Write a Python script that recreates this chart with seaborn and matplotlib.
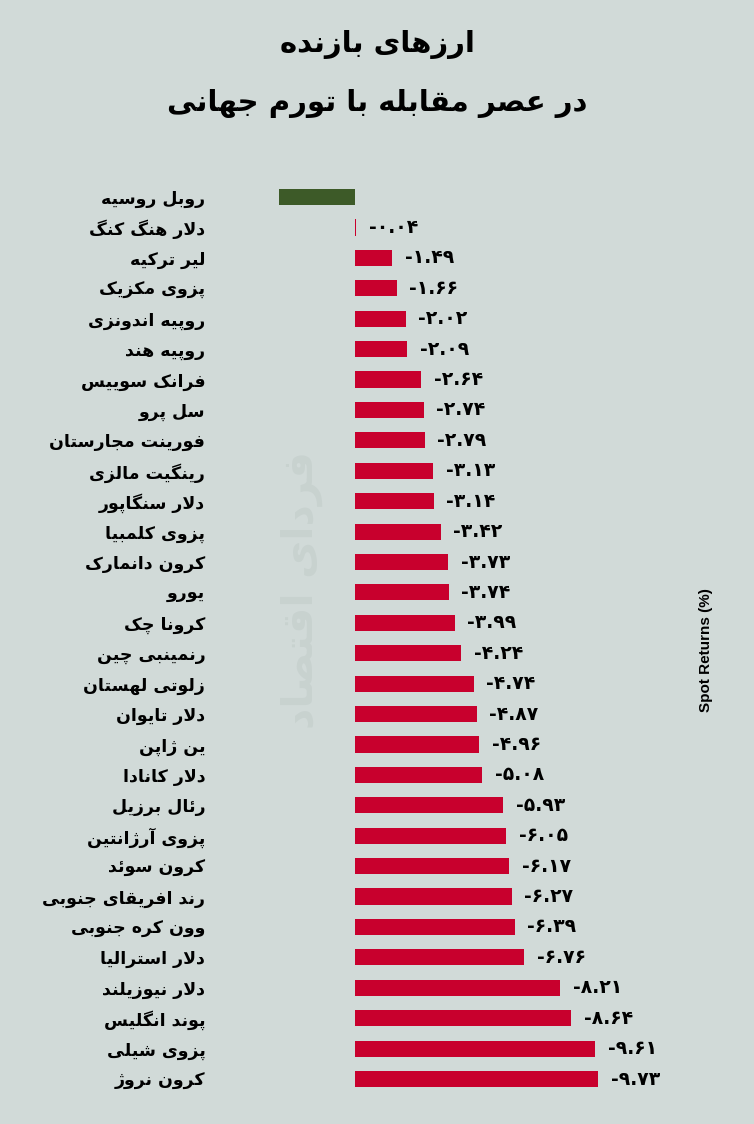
#!/usr/bin/env python3

import numpy as np
import pandas as pd
import matplotlib
matplotlib.use("Agg")
import matplotlib.pyplot as plt
import seaborn as sns

currencies = [
    "روبل روسیه", "دلار هنگ کنگ", "لیر ترکیه", "پزوی مکزیک", "روپیه اندونزی",
    "روپیه هند", "فرانک سوییس", "سل پرو", "فورینت مجارستان", "رینگیت مالزی",
    "دلار سنگاپور", "پزوی کلمبیا", "کرون دانمارک", "یورو", "کرونا چک",
    "رنمینبی چین", "زلوتی لهستان", "دلار تایوان", "ین ژاپن", "دلار کانادا",
    "رئال برزیل", "پزوی آرژانتین", "کرون سوئد", "رند افریقای جنوبی", "وون کره جنوبی",
    "دلار استرالیا", "دلار نیوزیلند", "پوند انگلیس", "پزوی شیلی", "کرون نروژ",
]
returns = [
    3.04, -0.04, -1.49, -1.66, -2.02, -2.09, -2.64, -2.74, -2.79, -3.13,
    -3.14, -3.42, -3.73, -3.74, -3.99, -4.24, -4.74, -4.87, -4.96, -5.08,
    -5.93, -6.05, -6.17, -6.27, -6.39, -6.76, -8.21, -8.64, -9.61, -9.73,
]
title_lines = ["ارزهای بازنده", "در عصر مقابله با تورم جهانی"]
axis_label = "Spot Returns (%)"
watermark = "فردای اقتصاد"

BG = "#d1dad8"
RED = "#c8002d"
GREEN = "#3d5a28"

# matplotlib has no arabic shaping, so map letters to presentation forms
FORMS = {
    "\u0622": (0xFE81, 0xFE82),
    "\u0626": (0xFE89, 0xFE8A, 0xFE8B, 0xFE8C),
    "\u0627": (0xFE8D, 0xFE8E),
    "\u0628": (0xFE8F, 0xFE90, 0xFE91, 0xFE92),
    "\u062A": (0xFE95, 0xFE96, 0xFE97, 0xFE98),
    "\u062C": (0xFE9D, 0xFE9E, 0xFE9F, 0xFEA0),
    "\u062F": (0xFEA9, 0xFEAA),
    "\u0631": (0xFEAD, 0xFEAE),
    "\u0632": (0xFEAF, 0xFEB0),
    "\u0633": (0xFEB1, 0xFEB2, 0xFEB3, 0xFEB4),
    "\u0634": (0xFEB5, 0xFEB6, 0xFEB7, 0xFEB8),
    "\u0635": (0xFEB9, 0xFEBA, 0xFEBB, 0xFEBC),
    "\u0639": (0xFEC9, 0xFECA, 0xFECB, 0xFECC),
    "\u0641": (0xFED1, 0xFED2, 0xFED3, 0xFED4),
    "\u0642": (0xFED5, 0xFED6, 0xFED7, 0xFED8),
    "\u0644": (0xFEDD, 0xFEDE, 0xFEDF, 0xFEE0),
    "\u0645": (0xFEE1, 0xFEE2, 0xFEE3, 0xFEE4),
    "\u0646": (0xFEE5, 0xFEE6, 0xFEE7, 0xFEE8),
    "\u0647": (0xFEE9, 0xFEEA, 0xFEEB, 0xFEEC),
    "\u0648": (0xFEED, 0xFEEE),
    "\u067E": (0xFB56, 0xFB57, 0xFB58, 0xFB59),
    "\u0686": (0xFB7A, 0xFB7B, 0xFB7C, 0xFB7D),
    "\u0698": (0xFB8A, 0xFB8B),
    "\u06A9": (0xFB8E, 0xFB8F, 0xFB90, 0xFB91),
    "\u06AF": (0xFB92, 0xFB93, 0xFB94, 0xFB95),
    "\u06CC": (0xFBFC, 0xFBFD, 0xFBFE, 0xFBFF),
}
LAM_ALEF = {"\u0627": (0xFEFB, 0xFEFC), "\u0622": (0xFEF5, 0xFEF6)}


def dual (c):
    return c in FORMS and len(FORMS[c]) == 4


def shape (text):
    text = text.replace("\u064A", "\u06CC").replace("\u0643", "\u06A9")
    out = []
    i, n = 0, len(text)
    while i < n:
        c = text[i]
        if c not in FORMS:
            out.append(c)
            i += 1
            continue
        from_prev = i > 0 and dual(text[i - 1])
        if c == "\u0644" and i + 1 < n and text[i + 1] in LAM_ALEF:
            iso, fin = LAM_ALEF[text[i + 1]]
            out.append(chr(fin if from_prev else iso))
            i += 2
            continue
        to_next = dual(c) and i + 1 < n and text[i + 1] in FORMS
        f = FORMS[c]
        if from_prev and to_next:
            g = f[3]
        elif from_prev:
            g = f[1]
        elif to_next:
            g = f[2]
        else:
            g = f[0]
        out.append(chr(g))
        i += 1
    return "".join(reversed(out))


def fa_num (v):
    return f"{v:.2f}".translate(str.maketrans("0123456789", "۰۱۲۳۴۵۶۷۸۹"))


df = pd.DataFrame({
    "label": [shape(c) for c in currencies],
    "ret": returns,
})
df["sign"] = np.where(df["ret"] > 0, "up", "down")

sns.set_theme(style="white")
plt.rcParams["font.family"] = ["DejaVu Sans"]
plt.rcParams["text.color"] = "black"

fig = plt.figure(figsize=(7.54, 11.24), dpi=100, facecolor=BG)
ax = fig.add_axes([0.3183, 0.0265, 0.6101, 0.8117])
ax.set_facecolor(BG)

sns.barplot(data=df, x="ret", y="label", hue="sign", order=list(df["label"]),
            palette={"up": GREEN, "down": RED}, dodge=False, width=0.53,
            legend=False, ax=ax, orient="h", saturation=1, linewidth=0)

ax.set_xlim(4.6, -13.8)
ax.set_ylim(len(df) - 0.5, -0.5)
sns.despine(ax=ax, left=True, bottom=True)
ax.set_xticks([])
ax.set_xlabel("")
ax.set_ylabel("")
ax.tick_params(axis="y", length=0, pad=25)
for t in ax.get_yticklabels():
    t.set_fontweight("bold")
    t.set_fontsize(12.5)
    t.set_color("black")

for i, v in enumerate(df["ret"]):
    if v < 0:
        ax.text(v - 0.5, i, fa_num(v), ha="left", va="center",
                fontsize=13.5, fontweight="bold", color="black")

fig.text(0.5, 0.960, shape(title_lines[0]), ha="center", va="center",
         fontsize=21, fontweight="bold", color="black")
fig.text(0.5, 0.908, shape(title_lines[1]), ha="center", va="center",
         fontsize=21, fontweight="bold", color="black")

fig.text(0.936, 0.422, axis_label, rotation=90, ha="center", va="center",
         fontsize=11, fontweight="bold", color="black",
         family=["Liberation Sans", "DejaVu Sans"])

fig.text(0.40, 0.475, shape(watermark), rotation=90, ha="center", va="center",
         fontsize=30, fontweight="bold", color="#8a9893", alpha=0.12, zorder=0)

fig.savefig("out.png", dpi=100, facecolor=BG)
